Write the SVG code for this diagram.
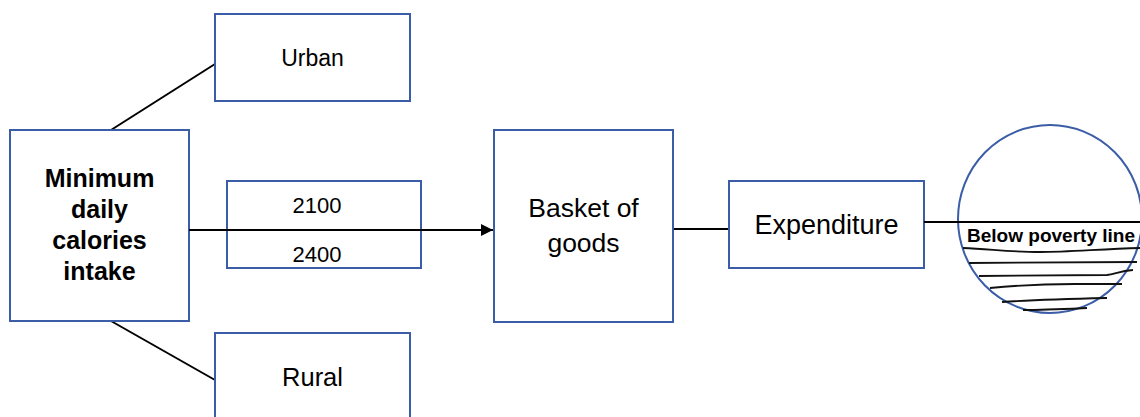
<svg xmlns="http://www.w3.org/2000/svg" width="1140" height="417" viewBox="0 0 1140 417">
<style>
.box{fill:#fff;stroke:#3b5ca6;stroke-width:2}
.ln{stroke:#000;stroke-width:2;fill:none}
.h{stroke:#111;stroke-width:1.8;fill:none}
.t{font-family:"Liberation Sans",Arial,sans-serif;fill:#000;text-anchor:middle}
.b{font-weight:bold}
</style>
<defs>
<marker id="arr" viewBox="0 0 10 10" refX="10" refY="5" markerWidth="6" markerHeight="6" orient="auto" markerUnits="strokeWidth">
<path d="M0,0 L10,5 L0,10 z" fill="#000"/>
</marker>
</defs>
<rect width="1140" height="417" fill="#fff"/>
<g id="connectors">
<line class="ln" x1="111" y1="130" x2="215" y2="64"/>
<line class="ln" x1="111" y1="321" x2="215" y2="380"/>
<line class="ln" x1="673" y1="229" x2="729" y2="229"/>
</g>
<g id="urban"><rect class="box" x="215" y="14" width="195" height="87"/><text class="t" x="312.5" y="66" font-size="23">Urban</text></g>
<g id="rural"><rect class="box" x="215" y="333" width="195" height="100"/><text class="t" x="312.5" y="386" font-size="25.5">Rural</text></g>
<g id="calories"><rect class="box" x="227" y="181" width="194" height="87"/><text class="t" x="317" y="213" font-size="22">2100</text><text class="t" x="317" y="262" font-size="22">2400</text></g>
<g id="main"><rect class="box" x="10" y="130" width="179" height="191"/>
<text class="t b" x="99.5" y="187" font-size="25">Minimum</text>
<text class="t b" x="99.5" y="218" font-size="25">daily</text>
<text class="t b" x="99.5" y="249" font-size="25">calories</text>
<text class="t b" x="99.5" y="280" font-size="25">intake</text></g>
<g id="arrow"><line class="ln" x1="189" y1="230" x2="493" y2="230" marker-end="url(#arr)"/></g>
<g id="basket"><rect class="box" x="494" y="130" width="179" height="192"/><text class="t" x="583.5" y="217" font-size="26.5">Basket of</text><text class="t" x="583.5" y="252" font-size="26.5">goods</text></g>
<g id="expenditure"><rect class="box" x="729" y="181" width="195" height="87"/><text class="t" x="826.5" y="234" font-size="27">Expenditure</text></g>
<g id="poverty">
<ellipse class="box" cx="1050" cy="219" rx="92" ry="94"/>
<line class="ln" x1="924" y1="222" x2="1140" y2="222"/>
<text class="t b" x="1051" y="242" font-size="17.5" textLength="168" lengthAdjust="spacingAndGlyphs">Below poverty line</text>
<path class="h" d="M963,248 C990,249 1010,252 1040,252 C1070,252 1100,249 1140,248"/>
<path class="h" d="M969,263 L1137,262"/>
<path class="h" d="M979,276 L1107,275 C1115,274 1120,271 1133,270"/>
<path class="h" d="M990,288 C1010,286 1030,284 1075,284 L1122,284"/>
<path class="h" d="M1002,302 C1030,300 1060,299 1107,298"/>
<path class="h" d="M1023,310 C1045,310 1065,309 1087,308"/>
</g>
</svg>
